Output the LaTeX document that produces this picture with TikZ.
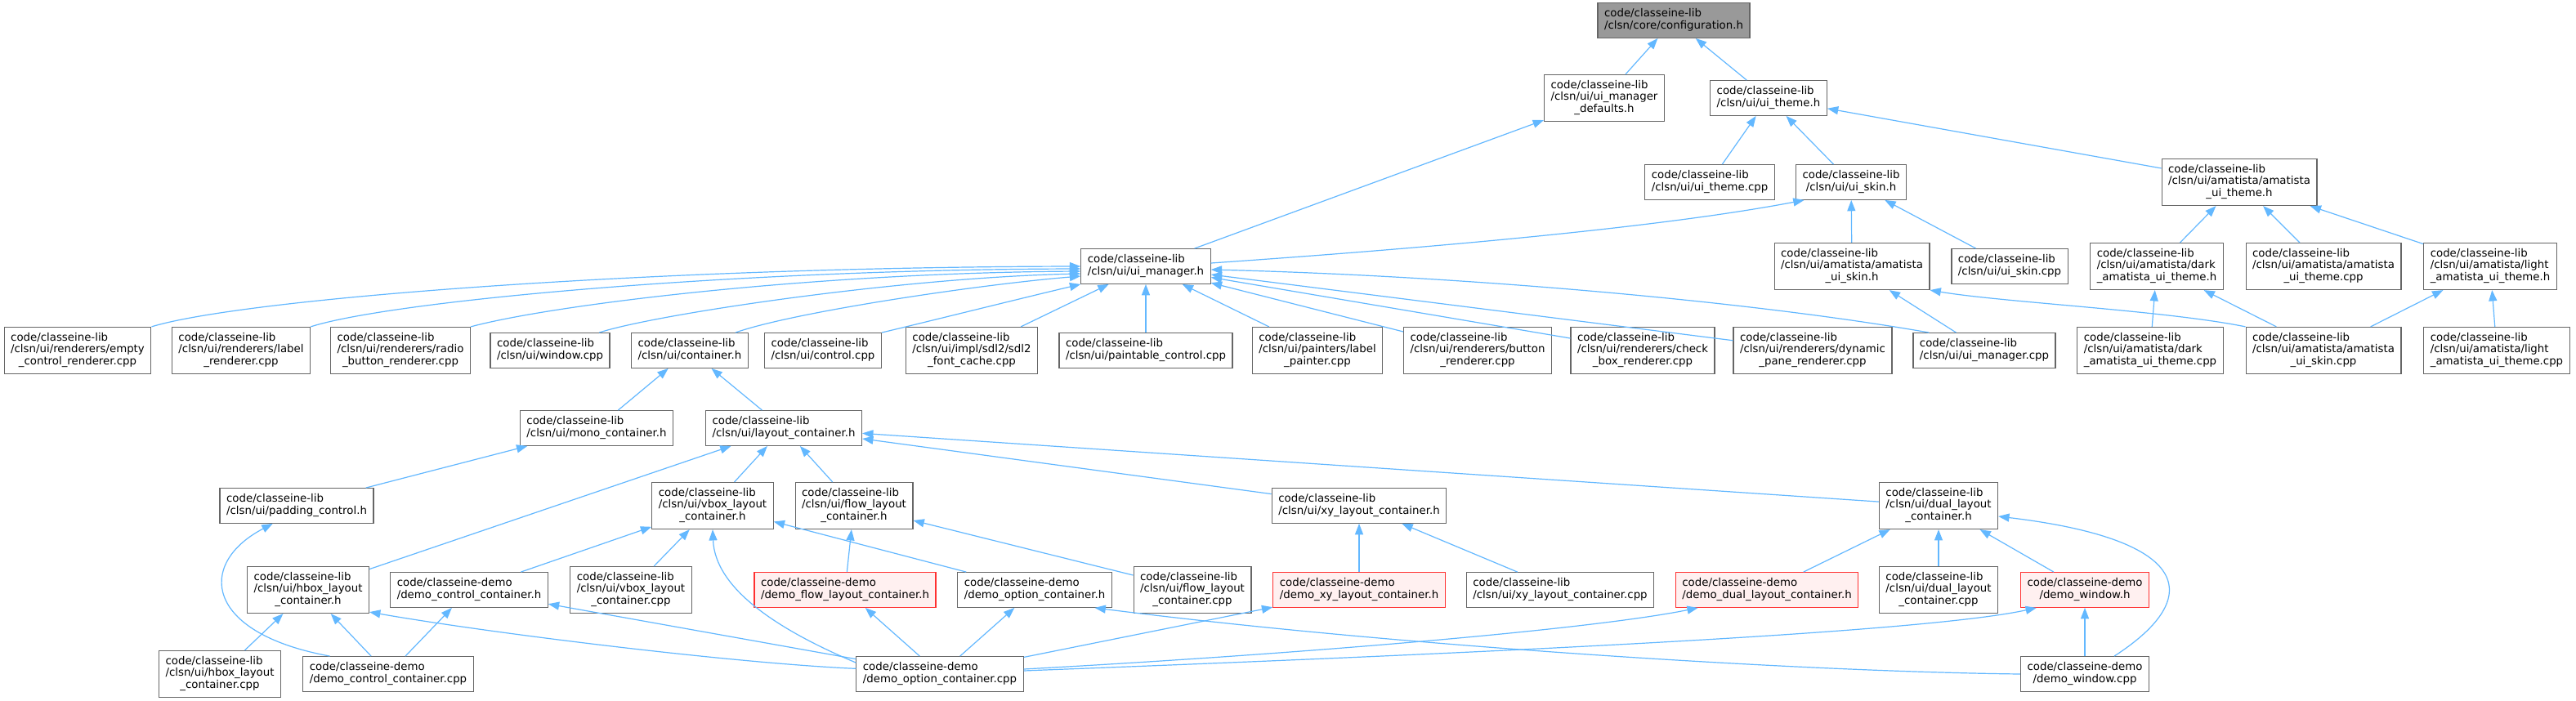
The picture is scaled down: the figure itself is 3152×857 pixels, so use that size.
\documentclass[tikz,border=0pt]{standalone}
\usepackage{fontspec}
\setmainfont{DejaVu Sans}
\usetikzlibrary{arrows.meta}
\definecolor{edgeblue}{HTML}{63B8FF}
\definecolor{boxgray}{HTML}{666666}
\definecolor{rootgray}{HTML}{999999}
\definecolor{demopink}{HTML}{FFF0F0}
\definecolor{demored}{HTML}{FF3030}
\newcommand{\twoln}[2]{\begin{tabular}{@{}l@{}}#1\\\multicolumn{1}{@{}c@{}}{#2}\end{tabular}}
\newcommand{\threeln}[3]{\begin{tabular}{@{}l@{}}#1\\#2\\\multicolumn{1}{@{}c@{}}{#3}\end{tabular}}
\begin{document}
\begin{tikzpicture}[x=0.75pt, y=-0.75pt,
    file/.style={draw=boxgray, fill=white, line width=0.9pt, inner xsep=6pt, inner ysep=5.25pt,
      font=\fontsize{10}{10.5}\selectfont},
    rootfile/.style={file, fill=rootgray},
    demofile/.style={file, draw=demored, fill=demopink},
    dep/.style={draw=edgeblue, line width=0.9pt, -{Triangle[length=10pt,width=7.5pt]}}]
    \useasboundingbox (0,0) rectangle (3152,857);
    \fill[white] (0,0) rectangle (3152,857);
    % Core and theme
    \node[rootfile] (cfg) at (2048,25) {\twoln{code/classeine-lib}{/clsn/core/configuration.h}};
    \node[file] (defaults) at (1963,120) {\threeln{code/classeine-lib}{/clsn/ui/ui\_manager}{\_defaults.h}};
    \node[file] (theme) at (2164,120) {\twoln{code/classeine-lib}{/clsn/ui/ui\_theme.h}};
    \node[file] (themecpp) at (2092,223) {\twoln{code/classeine-lib}{/clsn/ui/ui\_theme.cpp}};
    \node[file] (skin) at (2265,223) {\twoln{code/classeine-lib}{/clsn/ui/ui\_skin.h}};
    \node[file] (amtheme) at (2740,223) {\threeln{code/classeine-lib}{/clsn/ui/amatista/amatista}{\_ui\_theme.h}};
    \node[file] (uimgr) at (1402,326) {\twoln{code/classeine-lib}{/clsn/ui/ui\_manager.h}};
    \node[file] (amskin) at (2266,326) {\threeln{code/classeine-lib}{/clsn/ui/amatista/amatista}{\_ui\_skin.h}};
    \node[file] (skincpp) at (2459,326) {\twoln{code/classeine-lib}{/clsn/ui/ui\_skin.cpp}};
    \node[file] (darkh) at (2639,326) {\threeln{code/classeine-lib}{/clsn/ui/amatista/dark}{\_amatista\_ui\_theme.h}};
    \node[file] (amthemecpp) at (2843,326) {\threeln{code/classeine-lib}{/clsn/ui/amatista/amatista}{\_ui\_theme.cpp}};
    \node[file] (lighth) at (3047,326) {\threeln{code/classeine-lib}{/clsn/ui/amatista/light}{\_amatista\_ui\_theme.h}};
    % Users of ui_manager.h
    \node[file] (emptyr) at (95,429) {\threeln{code/classeine-lib}{/clsn/ui/renderers/empty}{\_control\_renderer.cpp}};
    \node[file] (labelr) at (295,429) {\threeln{code/classeine-lib}{/clsn/ui/renderers/label}{\_renderer.cpp}};
    \node[file] (radior) at (490,429) {\threeln{code/classeine-lib}{/clsn/ui/renderers/radio}{\_button\_renderer.cpp}};
    \node[file] (window) at (673,429) {\twoln{code/classeine-lib}{/clsn/ui/window.cpp}};
    \node[file] (container) at (844,429) {\twoln{code/classeine-lib}{/clsn/ui/container.h}};
    \node[file] (control) at (1007,429) {\twoln{code/classeine-lib}{/clsn/ui/control.cpp}};
    \node[file] (fontcache) at (1189,429) {\threeln{code/classeine-lib}{/clsn/ui/impl/sdl2/sdl2}{\_font\_cache.cpp}};
    \node[file] (paintable) at (1402,429) {\twoln{code/classeine-lib}{/clsn/ui/paintable\_control.cpp}};
    \node[file] (labelp) at (1612,429) {\threeln{code/classeine-lib}{/clsn/ui/painters/label}{\_painter.cpp}};
    \node[file] (buttonr) at (1808,429) {\threeln{code/classeine-lib}{/clsn/ui/renderers/button}{\_renderer.cpp}};
    \node[file] (checkr) at (2010,429) {\threeln{code/classeine-lib}{/clsn/ui/renderers/check}{\_box\_renderer.cpp}};
    \node[file] (dynr) at (2218,429) {\threeln{code/classeine-lib}{/clsn/ui/renderers/dynamic}{\_pane\_renderer.cpp}};
    \node[file] (uimgrcpp) at (2428,429) {\twoln{code/classeine-lib}{/clsn/ui/ui\_manager.cpp}};
    \node[file] (darkcpp) at (2631,429) {\threeln{code/classeine-lib}{/clsn/ui/amatista/dark}{\_amatista\_ui\_theme.cpp}};
    \node[file] (amskincpp) at (2843,429) {\threeln{code/classeine-lib}{/clsn/ui/amatista/amatista}{\_ui\_skin.cpp}};
    \node[file] (lightcpp) at (3055,429) {\threeln{code/classeine-lib}{/clsn/ui/amatista/light}{\_amatista\_ui\_theme.cpp}};
    % Containers
    \node[file] (mono) at (730,524) {\twoln{code/classeine-lib}{/clsn/ui/mono\_container.h}};
    \node[file] (layout) at (959,524) {\twoln{code/classeine-lib}{/clsn/ui/layout\_container.h}};
    \node[file] (padding) at (363,619) {\twoln{code/classeine-lib}{/clsn/ui/padding\_control.h}};
    \node[file] (vboxh) at (872,619) {\threeln{code/classeine-lib}{/clsn/ui/vbox\_layout}{\_container.h}};
    \node[file] (flowh) at (1045,619) {\threeln{code/classeine-lib}{/clsn/ui/flow\_layout}{\_container.h}};
    \node[file] (xyh) at (1663,619) {\twoln{code/classeine-lib}{/clsn/ui/xy\_layout\_container.h}};
    \node[file] (dualh) at (2372,619) {\threeln{code/classeine-lib}{/clsn/ui/dual\_layout}{\_container.h}};
    % Layouts and demos
    \node[file] (hboxh) at (377,722) {\threeln{code/classeine-lib}{/clsn/ui/hbox\_layout}{\_container.h}};
    \node[file] (democtrlh) at (574,722) {\twoln{code/classeine-demo}{/demo\_control\_container.h}};
    \node[file] (vboxcpp) at (772,722) {\threeln{code/classeine-lib}{/clsn/ui/vbox\_layout}{\_container.cpp}};
    \node[demofile] (demoflowh) at (1034,722) {\twoln{code/classeine-demo}{/demo\_flow\_layout\_container.h}};
    \node[file] (demoopth) at (1266,722) {\twoln{code/classeine-demo}{/demo\_option\_container.h}};
    \node[file] (flowcpp) at (1459,722) {\threeln{code/classeine-lib}{/clsn/ui/flow\_layout}{\_container.cpp}};
    \node[demofile] (demoxyh) at (1663,722) {\twoln{code/classeine-demo}{/demo\_xy\_layout\_container.h}};
    \node[file] (xycpp) at (1909,722) {\twoln{code/classeine-lib}{/clsn/ui/xy\_layout\_container.cpp}};
    \node[demofile] (demodualh) at (2162,722) {\twoln{code/classeine-demo}{/demo\_dual\_layout\_container.h}};
    \node[file] (dualcpp) at (2372,722) {\threeln{code/classeine-lib}{/clsn/ui/dual\_layout}{\_container.cpp}};
    \node[demofile] (demowinh) at (2551,722) {\twoln{code/classeine-demo}{/demo\_window.h}};
    \node[file] (hboxcpp) at (269,825) {\threeln{code/classeine-lib}{/clsn/ui/hbox\_layout}{\_container.cpp}};
    \node[file] (democtrlcpp) at (475,825) {\twoln{code/classeine-demo}{/demo\_control\_container.cpp}};
    \node[file] (demooptcpp) at (1150,825) {\twoln{code/classeine-demo}{/demo\_option\_container.cpp}};
    \node[file] (demowincpp) at (2551,825) {\twoln{code/classeine-demo}{/demo\_window.cpp}};
    % Top edges
    \draw[dep] (defaults) -- (cfg);
    \draw[dep] (theme) -- (cfg);
    \draw[dep] (uimgr) -- (defaults);
    \draw[dep] (themecpp) -- (theme);
    \draw[dep] (skin) -- (theme);
    \draw[dep] (amtheme) -- (theme);
    \draw[dep] ([yshift=3pt]uimgr.east) .. controls (1800,300) and (2050,275) .. ([xshift=8pt]skin.south west);
    \draw[dep] (amskin) -- (skin);
    \draw[dep] (skincpp) -- (skin);
    \draw[dep] (darkh) -- (amtheme);
    \draw[dep] (amthemecpp) -- (amtheme);
    \draw[dep] (lighth) -- (amtheme);
    \draw[dep] (uimgrcpp) -- (amskin);
    \draw[dep] (amskincpp.north west) .. controls (2650,380) and (2450,370) .. (amskin.south east);
    \draw[dep] (darkcpp) -- (darkh);
    \draw[dep] (amskincpp) -- (darkh);
    \draw[dep] (amskincpp) -- (lighth);
    \draw[dep] (lightcpp) -- (lighth);
    % Into ui_manager.h
    \draw[dep] (emptyr.north east) .. controls (300,365) and (800,327) .. (uimgr.west);
    \draw[dep] (labelr.north east) .. controls (480,368) and (900,330) .. ([yshift=-2.25pt]uimgr.west);
    \draw[dep] (radior.north east) .. controls (680,372) and (1000,334) .. ([yshift=-4.5pt]uimgr.west);
    \draw[dep] ([xshift=-10pt]window.north east) .. controls (800,385) and (1100,340) .. ([yshift=-6.75pt]uimgr.west);
    \draw[dep] ([xshift=-12pt]container.north east) .. controls (970,382) and (1200,348) .. ([yshift=-9pt]uimgr.west);
    \draw[dep] (control.north east) .. controls (1150,390) and (1250,365) .. (uimgr.south west);
    \draw[dep] (fontcache) -- (uimgr);
    \draw[dep] (paintable) -- (uimgr);
    \draw[dep] (labelp) -- (uimgr);
    \draw[dep] (buttonr) -- (uimgr);
    \draw[dep] (checkr) -- (uimgr);
    \draw[dep] (dynr) -- (uimgr);
    \draw[dep] ([xshift=15pt]uimgrcpp.north west) .. controls (2150,370) and (1800,338) .. ([yshift=-3pt]uimgr.east);
    % Containers
    \draw[dep] (mono) -- (container);
    \draw[dep] (layout) -- (container);
    \draw[dep] (padding) -- (mono);
    \draw[dep] ([xshift=25pt]democtrlcpp.north west) .. controls (250,775) and (240,690) .. ([xshift=-22pt]padding.south);
    \draw[dep] (hboxh) -- (layout);
    \draw[dep] (vboxh) -- (layout);
    \draw[dep] (flowh) -- (layout);
    \draw[dep] (xyh) -- (layout);
    \draw[dep] (dualh) -- (layout);
    % Layouts
    \draw[dep] (democtrlh) -- (vboxh);
    \draw[dep] (vboxcpp) -- (vboxh);
    \draw[dep] (demoopth) -- (vboxh);
    \draw[dep] ([yshift=-6pt]demooptcpp.north west) .. controls (950,770) and (875,720) .. (vboxh.south);
    \draw[dep] (demoflowh) -- (flowh);
    \draw[dep] (flowcpp) -- (flowh);
    \draw[dep] (hboxcpp) -- (hboxh);
    \draw[dep] (democtrlcpp) -- (hboxh);
    \draw[dep] ([yshift=5pt]demooptcpp.west) .. controls (900,812) and (600,775) .. ([yshift=1.5pt]hboxh.south east);
    \draw[dep] (democtrlcpp) -- (democtrlh);
    \draw[dep] (demooptcpp) -- (democtrlh);
    \draw[dep] (demooptcpp) -- (demoflowh);
    \draw[dep] (demooptcpp) -- (demoopth);
    \draw[dep] (demooptcpp) -- (demoxyh);
    \draw[dep] ([yshift=4.5pt]demooptcpp.east) .. controls (1600,800) and (1950,770) .. ([xshift=21pt]demodualh.south west);
    \draw[dep] ([yshift=3pt]demooptcpp.east) .. controls (1800,800) and (2350,775) .. ([xshift=15pt]demowinh.south west);
    \draw[dep] (demowincpp.west) .. controls (2200,822) and (1700,790) .. ([xshift=-16pt]demoopth.south east);
    \draw[dep] (demoxyh) -- (xyh);
    \draw[dep] (xycpp) -- (xyh);
    % Dual layout
    \draw[dep] (demodualh) -- (dualh);
    \draw[dep] (dualcpp) -- (dualh);
    \draw[dep] (demowinh) -- (dualh);
    \draw[dep] ([xshift=27pt]demowincpp.north) .. controls (2700,730) and (2680,660) .. ([yshift=-9.75pt]dualh.east);
    \draw[dep] (demowincpp) -- (demowinh);
\end{tikzpicture}
\end{document}
